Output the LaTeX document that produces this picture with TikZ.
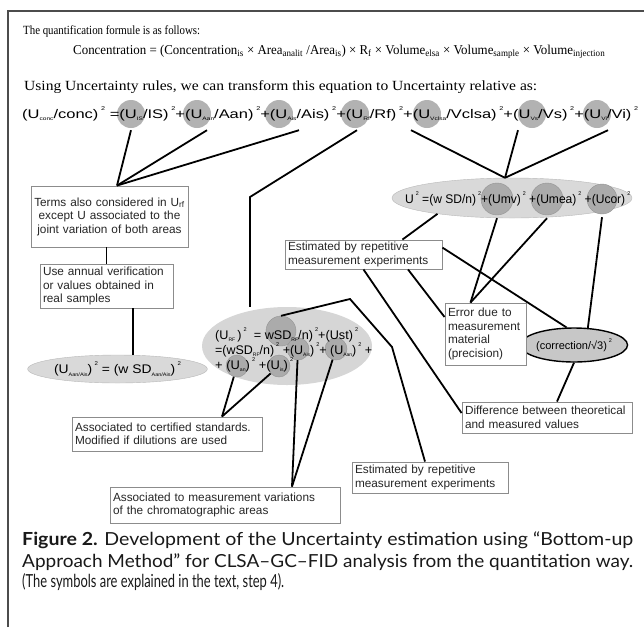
\documentclass[tikz,border=0pt]{standalone}
\usepackage{graphicx}
\usepackage{fontspec}
\setmainfont{Liberation Serif}
\setsansfont{Liberation Sans}
\newfontfamily\capfont{Lato}
\usetikzlibrary{positioning,shapes.geometric}

\newcommand{\sbs}[1]{\raisebox{-0.45ex}{\fontsize{5}{5}\selectfont #1}}
\newcommand{\sps}[1]{\,\raisebox{1.2ex}{\fontsize{5.5}{5.5}\selectfont #1}}
\newcommand{\hfit}[2]{\resizebox{#1}{\height}{#2}}

\tikzset{
  link/.style={line width=1.8pt, black},
  note/.style={draw=black!45, line width=0.9pt, fill=white, align=left,
    font=\sffamily\fontsize{11.8}{13.5}\selectfont, inner xsep=3pt, inner ysep=2pt, text=black!85},
  ucirc/.style={circle, fill=black!30, minimum size=28pt, inner sep=0pt},
  icirc/.style={circle, fill=black!33, draw=black!42, inner sep=0pt},
  blob/.style={ellipse, fill=black!15, draw=black!28, inner sep=0pt},
  eqfont/.style={font=\sffamily\fontsize{12.5}{15}\selectfont},
  capline/.style={anchor=base west, inner sep=0pt, text=black!90, font=\capfont\fontsize{18}{21}\selectfont},
}

\begin{document}
\begin{tikzpicture}[x=1pt,y=-1pt]
  \useasboundingbox (0,0) rectangle (644,627);
  % frame
  \draw[line width=1.1pt, black!70] (8,627) -- (8,11) -- (644,11);

  % heading
  \node[anchor=base west, inner sep=0pt, font=\rmfamily\fontsize{12.5}{14}\selectfont] (intro) at (23,34)
    {\hfit{177pt}{The quantification formule is as follows:}};
  \node[anchor=base west, inner sep=0pt, font=\rmfamily\fontsize{13.5}{15}\selectfont] (formula) at (73,54)
    {\hfit{532pt}{Concentration = (Concentration\textsubscript{is} × Area\textsubscript{analit} /Area\textsubscript{is}) × R\textsubscript{f} × Volume\textsubscript{elsa} × Volume\textsubscript{sample} × Volume\textsubscript{injection}}};
  \node[anchor=base west, inner sep=0pt, font=\rmfamily\fontsize{14}{16}\selectfont] (rules) at (24,90)
    {\hfit{513pt}{Using Uncertainty rules, we can transform this equation to Uncertainty relative as:}};

  % relative equation with its circled terms
  \node[ucirc] (uis) at (131,114) {};
  \node[ucirc] (uaan) at (197,114) {};
  \node[ucirc] (uais) at (279,114) {};
  \node[ucirc] (urf) at (355,114) {};
  \node[ucirc] (uvclsa) at (427,114) {};
  \node[ucirc] (uvs) at (532,114) {};
  \node[ucirc] (uvi) at (597,114) {};
  \node[anchor=base west, inner sep=0pt, eqfont] (releq) at (22,118)
    {\hfit{616pt}{(U\sbs{conc}/conc)\sps{2} =(U\sbs{IS}/IS)\sps{2}+(U\sbs{Aan}/Aan)\sps{2}+(U\sbs{Ais}/Ais)\sps{2}+(U\sbs{Rf}/Rf)\sps{2}+(U\sbs{Vclsa}/Vclsa)\sps{2}+(U\sbs{Vs}/Vs)\sps{2}+(U\sbs{Vi}/Vi)\sps{2}}};

  % U of the volumes
  \node[blob, minimum width=240pt, minimum height=40pt] (uell) at (512,198) {};
  \node[icirc, minimum size=32pt] (umv) at (497,199) {};
  \node[icirc, minimum size=32pt] (umea) at (547,199) {};
  \node[icirc, minimum size=30pt] (ucor) at (602,199) {};
  \node[anchor=base west, inner sep=0pt, eqfont] (utext) at (405,203)
    {\hfit{225pt}{U\sps{2} =(w SD/n)\sps{2}+(Umv)\sps{2} +(Umea)\sps{2} +(Ucor)\sps{2}}};

  % U of Rf
  \node[blob, draw=none, fill=black!16, minimum width=170pt, minimum height=78pt] (rfell) at (287,346) {};
  \node[icirc, minimum size=30pt] (wsd) at (281,331) {};
  \node[icirc, minimum size=22pt] (rfais) at (298,349) {};
  \node[icirc, minimum size=22pt] (rfaan) at (336,349) {};
  \node[icirc, minimum size=22pt] (rfan) at (237,366) {};
  \node[icirc, minimum size=22pt] (rfis) at (279,366) {};
  \node[anchor=base west, inner sep=0pt, eqfont] (rfone) at (215,339)
    {\hfit{143pt}{(U\sbs{RF}\,)\sps{2} \ = wSD\sbs{RF}/n)\sps{2}+(Ust)\sps{2}}};
  \node[anchor=base west, inner sep=0pt, eqfont] (rftwo) at (215,354)
    {\hfit{157pt}{=(wSD\sbs{RF}/n)\sps{2} +(U\sbs{Ais})\sps{2}+ (U\sbs{Aan})\sps{2} +}};
  \node[anchor=base west, inner sep=0pt, eqfont] (rfthree) at (215,369)
    {\hfit{78pt}{+ (U\sbs{an})\sps{2} +(U\sbs{is})\sps{2}}};

  % areas and correction
  \node[blob, minimum width=135pt, minimum height=28pt, eqfont] (aell) at (117.5,369)
    {\hfit{127pt}{(U\sbs{Aan/Ais})\sps{2} = (w SD\sbs{Aan/Ais})\sps{2}}};
  \node[ellipse, fill=black!22, draw=black, line width=1.4pt, minimum width=82pt, minimum height=34pt,
    inner sep=0pt, font=\sffamily\fontsize{11}{13}\selectfont] (corr) at (574,345) {(correction/√3)\sps{2}};

  % notes
  \node[note, align=center, text width=151pt, minimum height=61pt] (terms) at (109.5,216.5)
    {Terms also considered in U\textsubscript{rf}\\except U associated to the\\joint variation of both areas};
  \node[note, text width=127pt, minimum height=44pt] (annual) at (106.5,286)
    {Use annual verification\\or values obtained in\\real samples};
  \node[note, text width=151pt, minimum height=29pt] (estA) at (363.5,254.5)
    {Estimated by repetitive\\measurement experiments};
  \node[note, text width=75pt, minimum height=62pt] (error) at (485.5,334)
    {Error due to\\measurement\\material\\(precision)};
  \node[note, text width=164pt, minimum height=31pt] (diff) at (547,417.5)
    {Difference between theoretical\\and measured values};
  \node[note, text width=184pt, minimum height=34pt] (cert) at (167,434)
    {Associated to certified standards.\\Modified if dilutions are used};
  \node[note, text width=224pt, minimum height=36pt] (chroma) at (225,505)
    {Associated to measurement variations\\of the chromatographic areas};
  \node[note, text width=150pt, minimum height=31pt] (estB) at (430,477.5)
    {Estimated by repetitive\\measurement experiments};

  % connectors
  \coordinate (tmeet) at ([xshift=7.5pt]terms.north);
  \foreach \c/\dx in {uis/0,uaan/10,uais/20}
    \draw[link] ([xshift=\dx pt,yshift=-2pt]\c.south) -- (tmeet);
  \coordinate (rfbend) at (250,197);
  \draw[link] ([xshift=2pt,yshift=-2pt]urf.south) -- (rfbend) -- (rfbend |- rfell.north);
  \coordinate (umeet) at ([xshift=-7pt]uell.north);
  \foreach \c/\dx in {uvclsa/-16,uvs/-14,uvi/11}
    \draw[link] ([xshift=\dx pt,yshift=-2pt]\c.south) -- (umeet);
  \draw[link] (uell.192) -- (estA.21);
  \coordinate (emeet) at ([xshift=-15pt]error.north);
  \draw[link] ([yshift=-3pt]umv.south) -- (emeet);
  \draw[link] ([yshift=-3pt]umea.south) -- (emeet);
  \draw[link] ([yshift=-3pt]ucor.south) -- (corr.51);
  \draw[link] (corr.south) -- ([xshift=10pt]diff.north);
  \draw[link] (estA.5) -- (corr.113);
  \draw[link] (estA.south) -- ([yshift=4.5pt]diff.west);
  \draw[link] ([xshift=44.5pt]estA.south) -- ([yshift=17pt]error.west);
  \coordinate (sdbendA) at (350,299);
  \coordinate (sdbendB) at (392,347);
  \draw[link] (wsd.north) -- (sdbendA) -- (sdbendB) -- ([xshift=-5pt]estB.north);
  \coordinate (cmeet) at ([xshift=55pt]cert.north);
  \draw[link] (rfan) -- (cmeet);
  \draw[link] (rfis) -- (cmeet);
  \coordinate (amt) at ([xshift=67pt]chroma.north);
  \draw[link] (rfais) -- (amt);
  \draw[link] (rfaan) -- (amt);
  \draw[link] (annual.north) -- (annual.north |- terms.south);
  \coordinate (aout) at ([xshift=26.5pt]annual.south);
  \draw[link] (aout) -- (aout |- aell.north);

  % caption
  \node[capline] (capone) at (22,545)
    {\hfit{611pt}{\textbf{Figure 2.} Development of the Uncertainty estimation using “Bottom-up}};
  \node[capline] (captwo) at (22,567)
    {\hfit{611pt}{Approach Method” for CLSA–GC–FID analysis from the quantitation way.}};
  \node[capline] (capthree) at (22,587)
    {\hfit{262pt}{(The symbols are explained in the text, step 4).}};
\end{tikzpicture}
\end{document}
